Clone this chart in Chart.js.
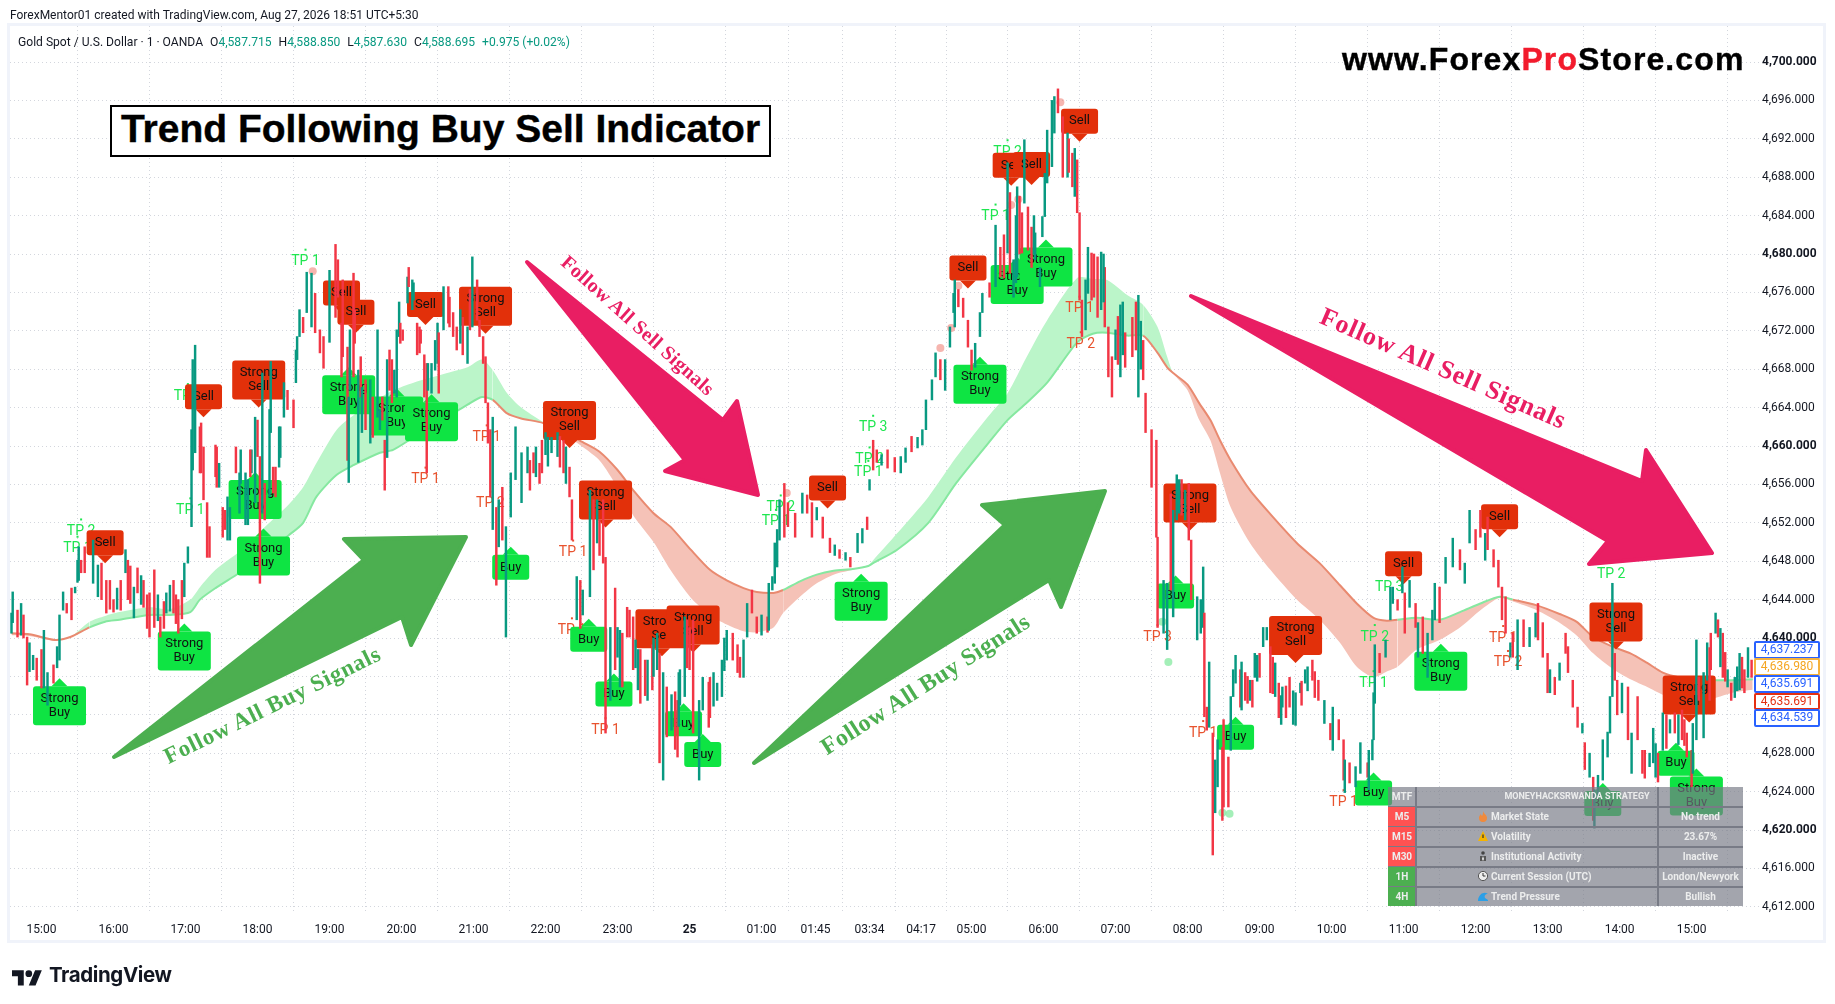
<!DOCTYPE html>
<html>
<head>
<meta charset="utf-8">
<title>Gold Spot / U.S. Dollar</title>
<script src="https://cdn.jsdelivr.net/npm/chart.js@4"></script>
<style>
html, body { margin: 0; padding: 0; background: #fff; }
#page { position: relative; width: 1835px; height: 1004px; overflow: hidden; font-family: Roboto, sans-serif; color: #131722; }
#frame { position: absolute; left: 7px; top: 23px; width: 1813px; height: 914px; border: 3px solid #f0f3fa; }
canvas { position: absolute; left: 0; top: 0; }
.abs { position: absolute; white-space: nowrap; }
#topline { left: 10px; top: 8px; font-size: 12px; line-height: 14px; }
#legend { left: 18px; top: 35px; font-size: 12.1px; line-height: 14px; }
#legend b { font-weight: normal; color: #089981; }
#legend span { margin-left: 7px; }
#headline { left: 110px; top: 105px; width: 657px; height: 48px; border: 2px solid #000; background: #fff; font: bold 39px/44px "Liberation Sans", sans-serif; color: #000; text-align: center; -webkit-text-stroke: 0.4px #000; }
#site { left: 1342px; top: 41px; font: bold 32px/36px "Liberation Sans", sans-serif; color: #000; letter-spacing: 1.1px; -webkit-text-stroke: 0.4px; }
#site i { font-style: normal; color: #f21b2d; }
.tag { position: absolute; left: 1754px; width: 62px; height: 13.5px; border: 2px solid; background: #fff; font-size: 12px; line-height: 13.5px; text-align: center; border-radius: 2px; }
#logoText { left: 49px; top: 963px; font: 700 20.5px/24px Inter, Roboto, sans-serif; letter-spacing: -0.4px; color: #131722; }
#overlay { position: absolute; left: 0; top: 0; }
.cell { position: absolute; height: 19px; line-height: 19px; font-size: 10px; font-weight: 700; color: #eceded; text-align: center; white-space: nowrap; box-sizing: border-box; }
</style>
</head>
<body>
<div id="page">
  <div id="frame"></div>
  <canvas id="chart" width="1835" height="1004"></canvas>
  <div class="abs" id="topline">ForexMentor01 created with TradingView.com, Aug 27, 2026 18:51 UTC+5:30</div>
  <div class="abs" id="legend">Gold Spot / U.S. Dollar · 1 · OANDA<span>O<b>4,587.715</b></span><span>H<b>4,588.850</b></span><span>L<b>4,587.630</b></span><span>C<b>4,588.695</b></span><span><b>+0.975 (+0.02%)</b></span></div>
  <div class="abs" id="headline">Trend Following Buy Sell Indicator</div>
  <div class="abs" id="site">www.Forex<i>Pro</i>Store.com</div>
  <svg id="overlay" width="1835" height="1004">
    <g stroke-linejoin="round" stroke-width="4">
      <polygon fill="#4caf50" stroke="#4caf50" points="114,757 364,560 344,539 466,537 411,645 402,617"/>
      <polygon fill="#4caf50" stroke="#4caf50" points="754,763 1005,525 982,505 1105,491 1061,607 1049,580"/>
      <polygon fill="#e91e63" stroke="#e91e63" points="527,262 723,420 737,401 758,495 665,471 685,460"/>
      <polygon fill="#e91e63" stroke="#e91e63" points="1191,296 1642,481 1646,450 1712,553 1589,564 1608,541"/>
    </g>
    <g font-family="Liberation Serif, serif" font-weight="bold" text-anchor="middle" dominant-baseline="central">
      <text transform="translate(272,705) rotate(-26.2)" font-size="23" fill="#4caf50" textLength="238">Follow All Buy Signals</text>
      <text transform="translate(925,684) rotate(-32.4)" font-size="24" fill="#4caf50" textLength="242">Follow All Buy Signals</text>
      <text transform="translate(638,325) rotate(42)" font-size="20" fill="#e91e63" textLength="198">Follow All Sell Signals</text>
      <text transform="translate(1443,368) rotate(23.7)" font-size="26" fill="#e91e63" textLength="265">Follow All Sell Signals</text>
    </g>
    <g transform="translate(12,967) scale(0.84)" fill="#131722">
      <path d="M14 22H7V11H0V4h14v18zM28 22h-8l7.5-18h8L28 22z"/><circle cx="20" cy="8" r="4"/>
    </g>
  </svg>
  <div class="abs" id="logoText">TradingView</div>
  <div id="tags"></div>
  <div id="panel"></div>
</div>
<script>
// candles, 1 unit on the time axis = one 1 minute bar from the first 15:00
const barTime = [
  -25,-24,-20,-17,-15,-12,-10,-7,-4,0,2,5,10,13,15,18,21,25,28,30,
  31,33,36,43,50,54,60,66,70,72,77,80,85,90,94,99,104,110,114,119,
  122,125,128,132,135,140,145,148,153,155,162,166,170,175,180,182,184,191,195,199,
  202,205,210,212,213,215,218,221,225,228,232,235,240,245,247,250,255,256,260,264,
  266,270,274,280,284,286,288,292,296,298,301,305,306,310,313,316,319,321,325,330,
  331,335,339,343,346,351,355,359,363,365,368,370,372,374,376,379,381,384,387,391,
  395,400,405,410,415,420,425,430,435,440,442,446,449,451,457,460,463,465,468,470,
  474,478,482,488,493,495,499,505,509,513,515,518,521,525,530,532,536,540,543,548,
  551,557,563,567,571,576,582,585,588,592,596,600,605,606,609,611,613,615,619,622,
  628,634,638,642,646,651,657,661,665,670,674,680,684,688,690,693,696,700,705,711,
  716,720,725,730,734,737,742,745,749,753,757,760,761,764,768,772,775,778,782,784,
  790,795,799,805,807,810,813,817,819,822,825,828,832,834,836,838,842,844,847,851,
  855,859,863,865,867,870,872,875,880,883,886,889,892,895,899,903,909,914,918,920,
  925,929,930,935,938,943,946,950,953,956,958,963,968,969,971,973,976,978,980,984,
  985,989,991,993,995,999,1003,1007,1009,1011,1015,1018,1021,1024,1028,1031,1034,1040,1045,1049,
  1053,1059,1064,1069,1074,1076,1081,1085,1086,1090,1095,1099,1105,1106,1109,1110,1111,1115,1120,1124,
  1126,1130,1134,1136,1140,1145,1147,1151,1155,1159,1161,1165,1170,1176,1182,1186,1190,1195,1199,1203,
  1205,1210,1214,1217,1220,1224,1226,1230,1235,1240,1245,1247,1251,1255,1257,1261,1265,1270,1272,1276,
  1280,1284,1286,1290,1293,1294,1297,1301,1305,1307,1309,1311,1313,1317,1322,1325,1330,1334,1336,1340,
  1343,1347,1351,1357,1361,1367,1371,1375,1376,1379,1381,1385,1388,1391,1395,1397,1401,1405,1408,1411,
  1415,1419,1422,1425
];
const barHigh = [
  4642.6,4644.8,4642.9,4643.6,4642.4,4640.1,4639.5,4638.2,4637.9,4638.8,4640.8,4636.4,4637.2,4639.1,4642.4,4644.8,4643.6,4645.2,4645.3,4648.1,
  4649.5,4648.1,4649.5,4650.2,4647.8,4646.0,4644.0,4646.0,4649.2,4648.1,4645.3,4647.3,4646.0,4644.7,4647.1,4642.2,4644.7,4646.0,4644.0,4647.8,
  4649.5,4661.7,4670.5,4662.0,4659.9,4651.6,4660.1,4658.2,4653.3,4654.7,4659.9,4659.6,4657.2,4659.6,4662.7,4658.9,4667.6,4668.8,4657.8,4662.0,
  4666.6,4665.8,4664.8,4670.0,4671.4,4674.2,4673.4,4678.1,4678.0,4675.9,4672.1,4671.4,4678.3,4681.0,4679.4,4672.8,4670.3,4665.1,4678.0,4667.9,
  4669.3,4666.9,4666.9,4672.1,4665.1,4660.6,4669.0,4669.0,4672.1,4675.0,4672.1,4677.6,4678.6,4677.0,4672.8,4672.1,4669.5,4668.6,4668.6,4672.8,
  4671.8,4676.6,4676.6,4673.9,4672.4,4673.4,4672.4,4679.7,4677.3,4673.1,4671.4,4669.3,4664.5,4661.7,4663.0,4653.6,4654.4,4655.7,4651.6,4657.2,
  4662.0,4659.3,4659.9,4659.3,4658.2,4661.4,4660.9,4661.4,4660.6,4657.8,4654.4,4646.4,4646.0,4645.0,4655.4,4654.4,4654.4,4652.3,4654.4,4648.4,
  4641.1,4645.2,4640.8,4643.2,4642.2,4639.8,4638.8,4637.7,4639.3,4640.5,4638.4,4636.4,4634.9,4634.1,4633.5,4636.7,4642.2,4641.1,4641.9,4633.5,
  4635.9,4635.9,4635.3,4637.7,4640.8,4640.5,4638.0,4639.8,4643.6,4645.0,4642.2,4642.4,4642.2,4645.7,4646.4,4649.9,4651.3,4654.4,4656.1,4654.1,
  4653.0,4655.1,4654.9,4654.1,4653.6,4652.6,4650.4,4649.7,4649.2,4648.9,4648.4,4650.9,4651.4,4652.6,4656.5,4660.6,4659.6,4659.1,4659.6,4658.8,
  4658.9,4659.8,4661.0,4660.9,4661.7,4664.8,4666.9,4669.7,4669.0,4669.0,4672.4,4675.9,4677.3,4676.3,4675.4,4673.1,4670.0,4670.7,4673.9,4675.9,
  4677.0,4683.0,4680.7,4689.5,4686.4,4679.4,4687.0,4684.3,4691.9,4684.9,4682.8,4682.2,4678.6,4683.9,4688.4,4692.9,4696.0,4696.4,4697.2,4694.3,
  4692.6,4690.5,4689.8,4684.3,4675.2,4677.3,4680.7,4680.1,4679.7,4680.2,4678.6,4672.4,4669.3,4672.1,4674.7,4671.8,4673.4,4675.7,4671.0,4665.5,
  4661.7,4660.6,4650.5,4646.0,4645.7,4653.3,4657.0,4656.5,4655.4,4656.1,4650.2,4644.3,4647.4,4642.6,4632.8,4637.5,4630.1,4627.3,4629.4,4628.6,
  4631.5,4627.6,4633.9,4636.7,4638.2,4636.7,4636.4,4635.6,4635.6,4638.4,4638.4,4641.1,4641.1,4639.1,4637.4,4635.3,4634.9,4635.9,4634.3,4635.3,
  4636.7,4637.7,4635.6,4633.5,4631.1,4632.8,4631.5,4629.4,4627.3,4627.0,4626.6,4629.1,4627.0,4628.3,4629.4,4634.3,4639.3,4638.4,4639.8,4645.3,
  4645.3,4644.0,4647.4,4644.7,4646.0,4643.6,4641.6,4642.2,4640.5,4642.9,4645.7,4645.3,4648.4,4650.4,4649.2,4647.8,4653.3,4651.3,4653.3,4650.9,
  4652.6,4649.2,4648.1,4645.3,4644.3,4639.5,4640.5,4641.9,4641.9,4641.1,4642.6,4643.6,4641.6,4638.4,4636.7,4635.9,4637.4,4640.5,4639.1,4635.6,
  4632.8,4631.1,4629.1,4628.0,4625.5,4624.2,4625.7,4629.4,4630.2,4633.9,4645.7,4638.4,4635.6,4635.3,4634.9,4630.1,4633.9,4628.3,4628.3,4628.0,
  4630.6,4628.0,4632.2,4631.5,4632.2,4632.5,4630.1,4628.3,4631.1,4639.8,4635.9,4636.4,4639.5,4640.5,4642.6,4641.9,4640.5,4636.7,4635.3,4635.9,
  4638.4,4636.7,4639.0,4637.7
];
const barLow = [
  4640.5,4641.6,4640.1,4640.3,4640.0,4635.1,4636.5,4636.7,4635.6,4634.8,4634.8,4633.0,4635.3,4636.9,4637.7,4642.9,4642.6,4641.9,4644.7,4645.8,
  4646.0,4646.8,4646.8,4645.7,4644.0,4642.6,4642.7,4642.9,4646.8,4644.0,4642.1,4644.7,4643.2,4640.1,4641.1,4640.1,4642.6,4642.6,4640.5,4644.3,
  4647.8,4651.6,4659.3,4657.2,4654.4,4648.4,4656.8,4655.7,4651.3,4650.2,4657.2,4656.1,4651.8,4657.2,4658.9,4645.7,4653.0,4661.4,4654.7,4658.8,
  4663.0,4663.8,4661.9,4666.6,4669.0,4671.4,4671.8,4673.9,4672.4,4671.8,4669.7,4668.1,4670.8,4673.4,4675.5,4667.2,4658.5,4656.2,4667.2,4658.3,
  4665.1,4661.7,4660.3,4663.0,4662.7,4655.4,4658.8,4664.5,4665.1,4671.4,4671.0,4674.9,4676.6,4675.2,4669.5,4670.7,4665.1,4657.2,4665.5,4668.6,
  4665.5,4672.1,4672.8,4671.4,4670.0,4669.5,4668.6,4672.4,4673.1,4671.4,4668.6,4664.5,4660.3,4654.7,4651.3,4645.5,4649.5,4650.2,4640.1,4652.6,
  4656.5,4654.1,4657.2,4657.2,4656.1,4659.1,4659.3,4658.9,4657.2,4654.7,4650.2,4641.9,4641.0,4642.4,4644.3,4647.1,4649.9,4648.6,4647.8,4630.1,
  4633.5,4636.7,4634.9,4640.1,4636.7,4636.9,4633.2,4633.5,4634.6,4636.7,4627.0,4625.2,4629.7,4630.4,4627.6,4633.0,4633.9,4636.7,4630.1,4625.2,
  4632.5,4631.7,4633.5,4633.9,4637.7,4637.7,4635.9,4635.9,4640.1,4642.6,4640.5,4640.3,4640.6,4640.8,4645.0,4645.7,4647.4,4650.2,4650.5,4651.6,
  4650.5,4653.0,4653.0,4650.5,4652.3,4650.4,4648.9,4648.6,4648.3,4648.1,4647.4,4648.9,4649.9,4651.3,4655.4,4657.5,4658.3,4658.0,4657.7,4657.3,
  4657.2,4658.3,4659.4,4659.8,4660.1,4661.7,4664.8,4667.2,4666.9,4665.8,4670.3,4673.9,4672.4,4674.5,4673.4,4670.3,4667.9,4668.2,4671.4,4673.9,
  4675.5,4676.6,4677.6,4680.1,4678.0,4675.5,4677.6,4680.1,4685.3,4680.4,4678.6,4679.4,4676.6,4681.8,4683.9,4687.4,4689.1,4692.6,4694.7,4688.0,
  4688.0,4687.0,4684.3,4675.2,4671.4,4672.1,4675.9,4675.2,4673.4,4674.2,4672.4,4667.2,4665.1,4669.0,4667.2,4668.2,4669.3,4665.1,4666.9,4661.4,
  4655.7,4650.5,4641.1,4640.5,4638.8,4642.2,4652.3,4652.8,4652.3,4650.2,4644.0,4639.8,4641.1,4631.8,4630.4,4630.7,4617.4,4621.8,4624.5,4621.0,
  4622.4,4622.4,4628.3,4633.9,4635.3,4632.8,4633.5,4633.5,4632.8,4635.9,4635.9,4639.1,4639.8,4634.3,4633.9,4631.7,4632.8,4632.8,4630.9,4634.3,
  4635.3,4635.6,4633.5,4631.1,4629.4,4628.3,4629.4,4625.2,4623.9,4624.9,4624.5,4625.9,4625.5,4624.2,4627.3,4629.4,4633.2,4636.4,4638.0,4641.9,
  4643.6,4642.9,4644.7,4640.5,4643.2,4641.1,4638.0,4638.4,4635.9,4639.8,4641.9,4641.6,4645.7,4647.4,4647.1,4645.7,4649.9,4649.2,4650.5,4648.1,
  4649.2,4647.4,4645.3,4641.9,4640.5,4638.0,4638.0,4636.7,4639.1,4639.1,4640.1,4639.8,4638.0,4634.3,4634.3,4634.1,4635.6,4638.4,4636.4,4632.8,
  4630.7,4630.1,4626.3,4625.5,4621.0,4620.2,4623.4,4625.2,4627.6,4630.1,4633.9,4635.6,4632.0,4632.2,4629.4,4625.9,4629.4,4625.9,4625.4,4626.6,
  4627.0,4625.0,4628.3,4630.1,4630.1,4629.4,4627.6,4624.5,4625.9,4629.4,4633.5,4629.6,4635.6,4636.7,4640.5,4640.1,4635.9,4634.9,4633.5,4633.8,
  4634.6,4634.3,4635.9,4635.9
];
const barDirection = [
  'UUDUDDUUDDUUDUUUDDUU','UDDUDDDDUDUDDDDDUDDU','UUUDDDDUDUDUUUDDUUDU','UDDUUUDUUDDDUDDDDUDU',
  'DDUUDDUDUUDUDUDDDDUU','DUDDDDUUDDDDDDUDUDUU','UUUDDUUUDDDUDUUDUDDD','UDUDDUDUDUDUDUDUUDDU',
  'UDUUUDDUUDDUDUUUUUDD','DUDDUDDUDUDUUDUDDUDD','UUDUUUUUDUUUUDDDDUUU','DUDUDUUDUDDUUUUUUUDD',
  'UDDDDUUDDUDDDUUDDUDD','DDDUUUUDUDDUUDDUDUUD','DDUUUDDUDUDUUDUDUDUU','UDDUDUDDUDUUDUUUUDUU',
  'UDUDUDUDUUUDUUDUUDDU','DDDDDUDUDUUDDDUDUDDD','DUDUDUUUUUUDDUDUDDDU','UDUUDDDDUUDUUDUDDUDU',
  'UDUD'
].join('').split('');

const moreTime = [47,57,63,74,83,88,97,102,107,112,117,126,133,138,146,151,157,165,172,174,178,186,190,193,198,
  251,257,261,267,276,282,290,294,299,309,315,322,328,340,349,357,407,412,417,422,432,437,
  480,484,490,497,503,510,528,531,538,556,560,569,580,
  802,812,815,827,856,861,877,885,897,901,912,916,941,948,966,
  1000,1005,1013,1026,1033,1037,1043,1050,1055,1061,1345,1354,1364,1369,1390,1399,1403,1413,1417];
const moreHigh = [4647.6,4646.0,4645.2,4647.5,4646.5,4644.5,4644.5,4643.8,4645.5,4644.5,4646.0,4669.0,4662.4,4654.1,4659.9,4653.6,4653.6,4657.2,4656.5,4659.6,4663.0,4656.1,4663.8,4657.8,4662.0,
  4677.3,4672.1,4674.2,4666.1,4665.1,4663.8,4670.0,4667.9,4672.8,4677.3,4672.4,4668.6,4671.0,4675.5,4674.2,4676.3,4658.5,4659.9,4660.6,4660.9,4661.0,4659.9,
  4641.1,4640.5,4642.9,4638.8,4637.7,4640.0,4634.4,4636.4,4641.9,4635.4,4636.4,4640.0,4639.3,
  4682.0,4684.0,4686.0,4684.0,4692.0,4691.0,4680.0,4680.0,4673.5,4675.0,4675.0,4673.0,4655.0,4656.5,4644.0,
  4637.5,4636.0,4638.2,4638.0,4634.0,4635.0,4634.5,4635.5,4637.0,4636.5,4629.0,4632.0,4632.0,4631.5,4639.0,4641.0,4638.5,4637.0,4638.0];
const moreLow = [4644.3,4643.0,4643.0,4643.6,4643.5,4641.0,4641.8,4641.0,4642.8,4641.5,4642.0,4657.5,4657.2,4648.4,4655.7,4650.5,4650.2,4653.0,4651.8,4656.8,4654.1,4652.3,4654.7,4655.1,4657.8,
  4669.3,4665.8,4670.7,4661.4,4660.9,4661.7,4665.8,4665.5,4670.7,4674.2,4669.7,4665.8,4667.9,4672.4,4670.7,4672.1,4655.4,4656.8,4657.2,4657.9,4657.8,4656.1,
  4638.0,4634.9,4640.1,4634.6,4634.0,4636.0,4628.4,4630.8,4636.9,4630.7,4632.9,4636.6,4636.4,
  4677.5,4677.0,4680.0,4680.0,4688.5,4686.0,4675.5,4675.0,4668.5,4669.5,4670.0,4668.0,4645.0,4653.0,4640.5,
  4632.5,4633.2,4635.5,4634.2,4631.0,4631.7,4631.0,4633.0,4634.5,4633.8,4625.5,4628.5,4628.9,4628.8,4633.5,4637.0,4635.5,4634.5,4634.8];
const moreDirection = [
  'UDUDUDUDUDD','UDDDDUUUDUDUDU','DUDUDUDUDUDUUDUD','DUDUDU','UDDUDUDUDDUUD','DUDUDUDUDUDUDUU','UDUDUDUDUD','UDUDDUDUD'
].join('').split('');

// the two moving averages that make the band
const bandTime = [-25,-10,11,24,40,53,65,90,107,124,132,145,165,184,206,218,229,246,260,282,293,310,338,355,367,
  376,388,399,418,432,451,465,480,493,510,524,541,557,571,585,596,610,618,632,646,660,676,689,693,713,739,762,789,805,821,
  838,863,876,888,905,918,930,938,943,955,964,974,982,991,1007,1024,1046,1065,1082,1096,1110,1121,1130,1146,1165,1182,1199,1215,
  1226,1246,1265,1279,1293,1309,1324,1338,1351,1365,1382,1396,1409,1426];
const bandSlow = [4640.5,4640.4,4639.8,4640.1,4641.1,4641.7,4641.9,4642.4,4642.4,4642.7,4644.0,4645.2,4646.8,4648.5,4650.7,4652.0,4654.7,4657.0,4658.0,4659.3,4659.6,4660.9,4663.0,4664.3,4665.1,
  4664.8,4663.4,4662.9,4662.4,4661.7,4660.4,4659.4,4657.5,4655.4,4653.0,4651.6,4649.2,4647.1,4646.0,4645.2,4644.8,4644.7,4645.0,4645.9,4646.6,4647.0,4647.2,4647.5,4647.8,4649.2,4652.0,4656.1,4660.3,4662.7,4664.5,
  4666.6,4670.8,4671.7,4671.8,4671.5,4671.5,4669.7,4668.2,4667.6,4666.4,4664.6,4662.7,4660.6,4658.5,4655.4,4652.9,4649.9,4647.8,4645.5,4643.6,4642.1,4641.8,4641.9,4642.1,4641.9,4642.7,4643.6,4644.3,
  4644.0,4643.4,4642.5,4641.7,4640.1,4639.1,4638.4,4637.4,4636.4,4635.9,4635.6,4635.6,4635.6,4635.7];
const bandFast = [4640.3,4640.2,4639.7,4640.1,4641.7,4642.3,4642.7,4643.2,4643.0,4644.0,4645.3,4647.1,4649.0,4651.3,4653.9,4655.7,4658.2,4661.7,4663.2,4665.0,4665.8,4666.6,4667.6,4668.2,4669.0,
  4667.9,4665.5,4664.1,4662.5,4661.5,4659.9,4658.5,4655.7,4652.8,4650.0,4647.1,4644.2,4642.4,4641.4,4640.7,4640.6,4641.1,4642.6,4644.3,4645.7,4646.6,4647.1,4647.6,4648.1,4650.9,4654.7,4658.8,4663.1,4665.5,4669.3,
  4673.1,4677.5,4677.4,4677.3,4675.7,4674.7,4672.4,4669.3,4667.6,4665.8,4662.9,4660.6,4657.2,4653.6,4649.9,4647.1,4644.0,4641.9,4639.5,4637.0,4635.9,4636.5,4637.0,4638.8,4639.8,4641.1,4642.9,4644.2,
  4643.8,4642.9,4641.6,4640.3,4638.4,4636.8,4635.7,4634.9,4634.1,4633.5,4633.5,4633.8,4634.3,4634.6];
const bandRising = [0,0,0,0,1,1,1,1,1,1,1,1,1,1,1,1,1,1,1,1,1,1,1,1,1,
  0,0,0,0,0,0,0,0,0,0,0,0,0,0,0,0,0,1,1,1,1,1,1,1,1,1,1,1,1,1,
  1,1,1,1,1,0,0,0,0,0,0,0,0,0,0,0,0,0,0,0,0,0,1,1,1,1,1,1,
  0,0,0,0,0,0,0,0,0,0,1,1,1,1];

// Buy / Sell flags: time and price are where the pointer of the flag ends
const signalTime = [15,53,119,135,178,181,185,250,256,262,296,320,325,370,391,440,456,470,477,517,535,543,551,
  655,683,772,782,808,813,825,837,865,945,957,995,1045,1110,1135,1166,1215,1301,1312,1362,1373,1379];
const signalPrice = [4635.8,4647.8,4641.5,4663.0,4657.3,4664.0,4651.4,4673.8,4668.2,4671.8,4666.0,4672.6,4665.4,4671.7,4649.5,4659.8,4642.0,4651.5,4636.3,4638.1,4633.2,4638.5,4630.0,
  4653.5,4646.7,4676.4,4669.3,4687.1,4679.7,4687.2,4681.5,4691.7,4646.5,4651.2,4631.8,4637.4,4626.0,4645.6,4639.4,4650.5,4624.9,4638.8,4629.1,4631.2,4626.4];
const signalText = ['Strong Buy','Sell','Strong Buy','Sell','Strong Buy','Strong Sell','Strong Buy','Sell','Strong Buy','Sell','Strong Buy','Sell','Strong Buy','Strong Sell','Buy','Strong Sell','Buy','Strong Sell','Buy','Strong Sell','Buy','Strong Sell','Buy',
  'Sell','Strong Buy','Sell','Strong Buy','Sell','Strong Buy','Sell','Strong Buy','Sell','Buy','Strong Sell','Buy','Strong Sell','Buy','Sell','Strong Buy','Sell','Buy','Strong Sell','Buy','Strong Sell','Strong Buy'];

// take profit labels, the first ones belong to long trades
const tpTime = [33,30,124,122,220,616,612,693,690,689,795,805,1111,1110,1123,1308,
  320,371,374,443,470,442,930,968,1085,1218,1222,866,865];
const tpPrice = [4651.1,4649.3,4653.3,4665.2,4679.2,4653.6,4652.1,4661.9,4658.6,4657.2,4683.9,4690.6,4640.1,4635.3,4645.3,4646.6,
  4656.5,4660.9,4654.0,4648.9,4630.4,4640.8,4640.1,4630.1,4622.9,4640.0,4637.4,4670.6,4674.3];
const tpText = ['TP 2','TP 1','TP 1','TP 1','TP 1','TP 2','TP 1','TP 3','TP 2','TP 1','TP 1','TP 2','TP 2','TP 1','TP 3','TP 2',
  'TP 1','TP 1','TP 2','TP 1','TP 1','TP 1','TP 3','TP 1','TP 1','TP 1','TP 2','TP 2','TP 1'];
const tpLongCount = 16;

// round trade markers
const exitTime = [226,621,749,758,764,808,814,849,934,939,984,990];
const exitPrice = [4678.2,4655.1,4670.2,4672.3,4676.7,4685.1,4685.7,4695.8,4641.7,4637.5,4621.8,4621.7];
const exitLongCount = 8;

const priceTicks = [4612,4616,4620,4624,4628,4632,4636,4640,4644,4648,4652,4656,4660,4664,4668,4672,4676,4680,4684,4688,4692,4696,4700];
const timeTicks = [0,60,120,180,240,300,360,420,480,540,600,645,690,733,775,835,895,955,1015,1075,1135,1195,1255,1315,1375];
const timeLabels = ['15:00','16:00','17:00','18:00','19:00','20:00','21:00','22:00','23:00','25','01:00','01:45','03:34','04:17','05:00','06:00','07:00','08:00','09:00','10:00','11:00','12:00','13:00','14:00','15:00'];

// last values stacked on the price scale
const lastValues = ['4,637.237','4,636.980','4,635.691','4,635.691','4,634.539'];
const lastColors = ['#2962ff','#f5b13c','#2962ff','#e53012','#2962ff'];

const panelFrames = ['M5','M15','M30','1H','4H'];
const panelNames = ['Market State','Volatility','Institutional Activity','Current Session (UTC)','Trend Pressure'];
const panelValues = ['No trend','23.67%','Inactive','London/Newyork','Bullish'];
const panelFrameColors = ['#ff5252','#ff5252','#ff5252','#4caf50','#4caf50'];
const panelIcons = [
  '<path d="M5 0c1 3 4 4 4 7a4 4 0 0 1-8 0c0-2 1-3 2-4 0 1 1 2 1 2 1-1 1-3 1-5z" fill="#f08a3c"/>',
  '<path d="M5 0l5 10H0z" fill="#f5b400"/><rect x="4.4" y="3.5" width="1.2" height="3.5" fill="#333"/>',
  '<circle cx="5" cy="2" r="1.8" fill="#444"/><path d="M2 10V5h6v5z" fill="#555"/><path d="M5 5l1 3-1 2-1-2z" fill="#eee"/>',
  '<circle cx="5" cy="5" r="4.6" fill="#eee" stroke="#555"/><path d="M5 2v3h2.5" stroke="#333" fill="none"/>',
  '<path d="M0 9c1-6 6-9 10-6-3 0-4 2-3 4 1 1 2 1 3 2v1H0z" fill="#2b9fe6"/>'
];

const upColor = '#089981', downColor = '#f23645';
const fontName = 'Roboto, sans-serif';

// flags, TP text and markers sit under the candles
const signalPlugin = {
  id: 'signals',
  beforeDatasetDraw(chart, args) {
    if (args.index !== 0) return;
    const ctx = chart.ctx, x = chart.scales.x, y = chart.scales.y;
    ctx.save();
    exitTime.forEach((t, i) => {
      ctx.fillStyle = i < exitLongCount ? 'rgba(238,120,110,0.55)' : 'rgba(90,225,125,0.55)';
      ctx.beginPath();
      ctx.arc(x.getPixelForValue(t), y.getPixelForValue(exitPrice[i]), 4, 0, Math.PI * 2);
      ctx.fill();
    });
    ctx.font = '14px ' + fontName;
    ctx.textAlign = 'center';
    ctx.textBaseline = 'middle';
    tpTime.forEach((t, i) => {
      const px = x.getPixelForValue(t), py = y.getPixelForValue(tpPrice[i]);
      ctx.fillStyle = i < tpLongCount ? '#1fe650' : '#e8532e';
      ctx.fillText(tpText[i], px, py);
      ctx.fillRect(px - 1, py - 13, 2, 2);
    });
    signalTime.forEach((t, i) => drawFlag(ctx, x.getPixelForValue(t), y.getPixelForValue(signalPrice[i]), signalText[i]));
    ctx.restore();
  }
};

function drawFlag(ctx, px, tip, text) {
  const buy = text.indexOf('Buy') >= 0, strong = text.indexOf('Strong') === 0;
  const w = strong ? 53 : 37, h = strong ? 39 : 25, gap = 8;
  const top = buy ? tip + gap : tip - gap - h;
  const edge = buy ? top : top + h;
  ctx.fillStyle = buy ? '#0ee443' : '#e2300a';
  ctx.beginPath();
  ctx.roundRect(px - w / 2, top, w, h, 3);
  ctx.fill();
  ctx.beginPath();
  ctx.moveTo(px - 8, edge);
  ctx.lineTo(px, tip);
  ctx.lineTo(px + 8, edge);
  ctx.fill();
  ctx.fillStyle = '#111';
  ctx.font = '13px ' + fontName;
  if (strong) {
    const parts = text.split(' ');
    ctx.fillText(parts[0], px, top + 12);
    ctx.fillText(parts[1], px, top + 26);
  } else {
    ctx.fillText(text, px, top + h / 2);
  }
}

function timeFont(c) {
  const bold = c.tick && timeLabels[timeTicks.indexOf(c.tick.value)] === '25';
  return { family: fontName, size: 12, weight: bold ? 'bold' : 'normal' };
}
function priceFont(c) {
  const bold = c.tick && c.tick.value % 20 === 0;
  return { family: fontName, size: 12, weight: bold ? 'bold' : 'normal' };
}

const candleData = barTime.map((t, i) => ({ x: t, y: [barLow[i], barHigh[i]] }))
  .concat(moreTime.map((t, i) => ({ x: t, y: [moreLow[i], moreHigh[i]] })));
const candleDirections = barDirection.concat(moreDirection);

new Chart(document.getElementById('chart'), {
  type: 'bar',
  data: {
    datasets: [
      {
        label: 'XAUUSD',
        order: 1,
        data: candleData,
        backgroundColor: candleDirections.map(d => d === 'U' ? upColor : downColor),
        barThickness: 1.8,
        borderWidth: 0,
        borderSkipped: false,
        grouped: false
      },
      {
        type: 'line',
        label: 'slow',
        order: 2,
        data: bandTime.map((t, i) => ({ x: t, y: bandSlow[i] })),
        borderWidth: 2,
        pointRadius: 0,
        tension: 0.25,
        fill: false,
        segment: { borderColor: c => bandRising[c.p0DataIndex] ? '#86e8a0' : '#e98a70' }
      },
      {
        type: 'line',
        label: 'fast',
        order: 3,
        data: bandTime.map((t, i) => ({ x: t, y: bandFast[i] })),
        borderWidth: 0,
        pointRadius: 0,
        tension: 0.25,
        fill: { target: 1, above: '#bbf5c9', below: '#f5c2b7' }
      }
    ]
  },
  options: {
    responsive: false,
    animation: false,
    devicePixelRatio: 1,
    layout: { padding: { left: 10, top: 26, right: 10, bottom: 61 } },
    plugins: { legend: { display: false }, title: { display: false }, tooltip: { enabled: false } },
    scales: {
      x: {
        type: 'linear',
        min: -26.25,
        max: 1432,
        offset: false,
        afterFit(s) { s.height = 31; },
        afterBuildTicks(s) { s.ticks = timeTicks.map(v => ({ value: v })); },
        grid: { color: '#d3d6dd', drawTicks: false, tickLength: 0 },
        border: { display: false, dash: [1, 3] },
        ticks: {
          autoSkip: false,
          maxRotation: 0,
          padding: 11,
          color: '#131722',
          font: timeFont,
          callback: v => timeLabels[timeTicks.indexOf(v)]
        }
      },
      y: {
        position: 'right',
        min: 4611.46,
        max: 4703.75,
        afterFit(s) { s.width = 65; },
        afterBuildTicks(s) { s.ticks = priceTicks.map(v => ({ value: v })); },
        grid: { color: '#d3d6dd', drawTicks: false, tickLength: 0 },
        border: { display: false, dash: [1, 3] },
        ticks: {
          autoSkip: false,
          padding: 2,
          color: '#131722',
          font: priceFont,
          callback: v => v.toLocaleString('en-US', { minimumFractionDigits: 3 })
        }
      }
    }
  },
  plugins: [signalPlugin]
});

// price tags
const tagTops = [641, 658, 675, 692.5, 709];
document.getElementById('tags').innerHTML = lastValues.map((v, i) =>
  `<div class="tag" style="top:${tagTops[i]}px;border-color:${lastColors[i]};color:${lastColors[i] === '#f5b13c' ? '#f5a623' : lastColors[i]}">${v}</div>`).join('');

// strategy table in the corner, it is translucent in the original too
const rowTop = 787, rowStep = 20, colA = 1388, colB = 1416, colC = 1658, colEnd = 1743;
let panelHtml = `<div class="abs" style="left:${colA}px;top:${rowTop}px;width:${colEnd - colA}px;height:119px;background:rgba(120,123,134,0.68)"></div>`;
panelHtml += `<div class="cell" style="left:${colA}px;top:${rowTop}px;width:${colB - colA}px">MTF</div>`;
panelHtml += `<div class="cell" style="left:1504px;top:${rowTop}px;width:146px;font-size:9px">MONEYHACKSRWANDA STRATEGY</div>`;
panelFrames.forEach((f, i) => {
  const top = rowTop + rowStep * (i + 1);
  panelHtml += `<div class="abs" style="left:${colA}px;top:${top - 1}px;width:${colEnd - colA}px;height:2px;background:#787b86"></div>`;
  panelHtml += `<div class="cell" style="left:${colA}px;top:${top}px;width:${colB - colA}px;background:${panelFrameColors[i]}">${f}</div>`;
  panelHtml += `<svg class="abs" style="left:1478px;top:${top + 4}px" width="10" height="11">${panelIcons[i]}</svg>`;
  panelHtml += `<div class="cell" style="left:1491px;top:${top}px;text-align:left">${panelNames[i]}</div>`;
  panelHtml += `<div class="cell" style="left:${colC}px;top:${top}px;width:${colEnd - colC}px">${panelValues[i]}</div>`;
});
panelHtml += `<div class="abs" style="left:${colB - 1}px;top:${rowTop}px;width:1.5px;height:119px;background:#787b86"></div>`;
panelHtml += `<div class="abs" style="left:${colC - 1}px;top:${rowTop}px;width:1.5px;height:119px;background:#787b86"></div>`;
document.getElementById('panel').innerHTML = panelHtml;
</script>
</body>
</html>
